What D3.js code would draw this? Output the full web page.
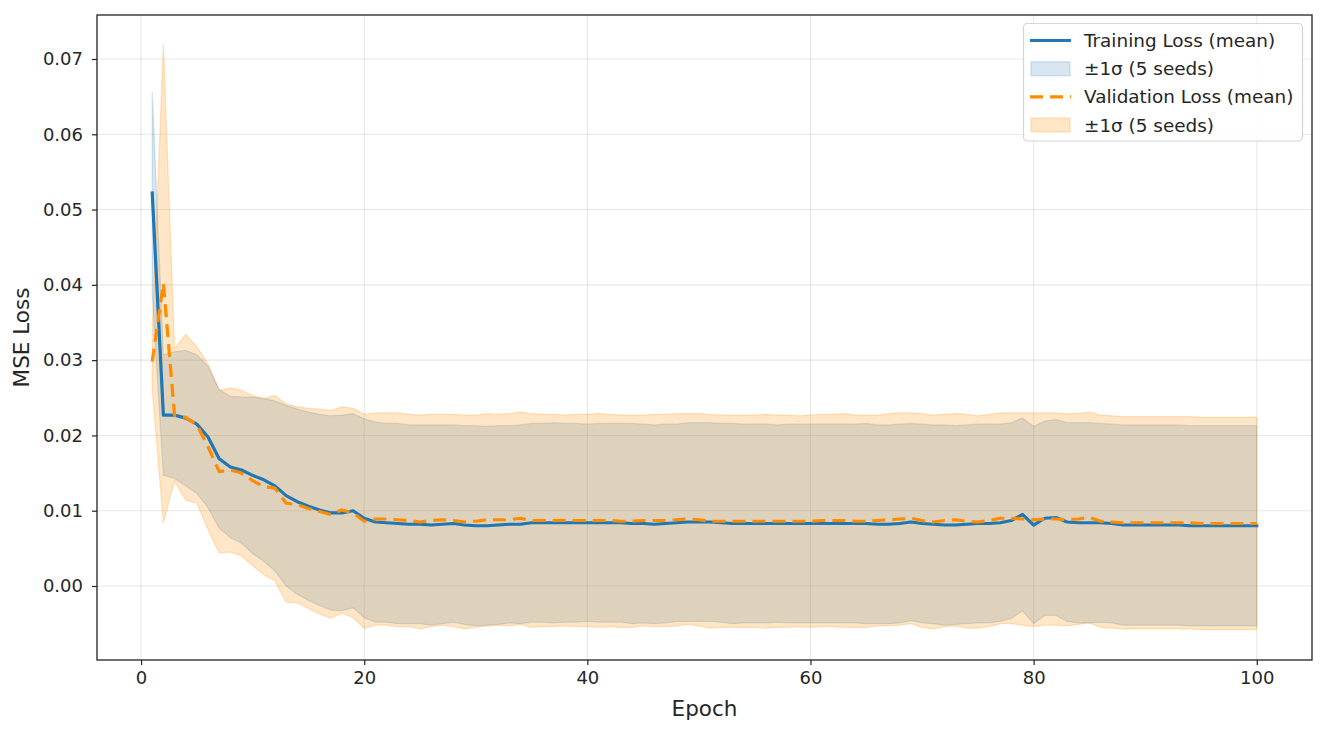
<!DOCTYPE html>
<html>
<head>
<meta charset="utf-8">
<script src="https://cdn.jsdelivr.net/npm/d3@7"></script>
<style>
  html, body { margin: 0; padding: 0; background: #fff; }
  svg { display: block; font-family: "DejaVu Sans", sans-serif; }
</style>
</head>
<body>
<svg id="chart" width="1326" height="732"></svg>
<script>
// ---------------- DATA ----------------
const epochs = d3.range(1, 101);

const trainMean = [
  0.0522, 0.0227, 0.0227, 0.0223, 0.0215, 0.0198, 0.0169, 0.0158, 0.0154, 0.0147,
  0.0141, 0.0133, 0.0120, 0.0112, 0.0106, 0.0101, 0.0097, 0.0097, 0.0100, 0.0090,
  0.0085, 0.0084, 0.0083, 0.0082, 0.0082, 0.0081, 0.0082, 0.0083, 0.0081, 0.0080,
  0.0080, 0.0081, 0.0082, 0.0082, 0.0084, 0.0084, 0.0084, 0.0084, 0.0084, 0.0084,
  0.0084, 0.0084, 0.0084, 0.0083, 0.0083, 0.0082, 0.0083, 0.0084, 0.0085, 0.0085,
  0.0085, 0.0084, 0.0083, 0.0083, 0.0083, 0.0083, 0.0083, 0.0083, 0.0083, 0.0083,
  0.0083, 0.0083, 0.0083, 0.0083, 0.0083, 0.0082, 0.0082, 0.0083, 0.0085, 0.0083,
  0.0082, 0.0081, 0.0081, 0.0082, 0.0083, 0.0083, 0.0084, 0.0087, 0.0095, 0.0081,
  0.0090, 0.0091, 0.0085, 0.0084, 0.0084, 0.0084, 0.0083, 0.0081, 0.0081, 0.0081,
  0.0081, 0.0081, 0.0081, 0.0080, 0.0080, 0.0080, 0.0080, 0.0080, 0.0080, 0.0080
];

const trainStd = [
  0.0134, 0.0080, 0.0084, 0.0090, 0.0092, 0.0094, 0.0092, 0.0094, 0.0097, 0.0104,
  0.0108, 0.0113, 0.0120, 0.0123, 0.0125, 0.0127, 0.0129, 0.0130, 0.0129, 0.0132,
  0.0133, 0.0132, 0.0133, 0.0132, 0.0132, 0.0133, 0.0132, 0.0131, 0.0132, 0.0133,
  0.0132, 0.0132, 0.0131, 0.0132, 0.0132, 0.0132, 0.0133, 0.0132, 0.0132, 0.0131,
  0.0132, 0.0132, 0.0132, 0.0133, 0.0132, 0.0132, 0.0132, 0.0131, 0.0132, 0.0132,
  0.0132, 0.0132, 0.0133, 0.0132, 0.0132, 0.0132, 0.0131, 0.0132, 0.0132, 0.0132,
  0.0132, 0.0132, 0.0132, 0.0132, 0.0133, 0.0132, 0.0132, 0.0132, 0.0131, 0.0132,
  0.0132, 0.0133, 0.0132, 0.0132, 0.0132, 0.0132, 0.0131, 0.0130, 0.0128, 0.0131,
  0.0129, 0.0130, 0.0132, 0.0133, 0.0133, 0.0132, 0.0132, 0.0133, 0.0133, 0.0133,
  0.0133, 0.0133, 0.0133, 0.0133, 0.0133, 0.0133, 0.0133, 0.0133, 0.0133, 0.0133
];

const valMean = [
  0.0298, 0.0402, 0.0227, 0.0224, 0.0214, 0.0185, 0.0152, 0.0154, 0.0150, 0.0140,
  0.0132, 0.0130, 0.0110, 0.0108, 0.0103, 0.0099, 0.0095, 0.0101, 0.0097, 0.0086,
  0.0089, 0.0089, 0.0088, 0.0087, 0.0085, 0.0087, 0.0088, 0.0087, 0.0085, 0.0086,
  0.0088, 0.0088, 0.0088, 0.0090, 0.0087, 0.0087, 0.0087, 0.0087, 0.0087, 0.0087,
  0.0087, 0.0087, 0.0086, 0.0086, 0.0087, 0.0087, 0.0087, 0.0088, 0.0089, 0.0088,
  0.0086, 0.0086, 0.0086, 0.0086, 0.0086, 0.0086, 0.0086, 0.0086, 0.0086, 0.0086,
  0.0087, 0.0087, 0.0087, 0.0086, 0.0086, 0.0087, 0.0088, 0.0089, 0.0090, 0.0087,
  0.0085, 0.0087, 0.0088, 0.0086, 0.0085, 0.0087, 0.0090, 0.0090, 0.0089, 0.0088,
  0.0089, 0.0089, 0.0088, 0.0089, 0.0091, 0.0086, 0.0085, 0.0084, 0.0084, 0.0084,
  0.0084, 0.0084, 0.0084, 0.0084, 0.0083, 0.0083, 0.0083, 0.0083, 0.0083, 0.0083
];

const valStd = [
  0.0038, 0.0318, 0.0088, 0.0110, 0.0104, 0.0110, 0.0108, 0.0109, 0.0110, 0.0113,
  0.0117, 0.0123, 0.0132, 0.0130, 0.0133, 0.0136, 0.0138, 0.0137, 0.0139, 0.0142,
  0.0141, 0.0141, 0.0142, 0.0141, 0.0142, 0.0141, 0.0140, 0.0141, 0.0142, 0.0141,
  0.0141, 0.0140, 0.0141, 0.0141, 0.0142, 0.0141, 0.0141, 0.0140, 0.0141, 0.0141,
  0.0142, 0.0141, 0.0141, 0.0141, 0.0140, 0.0141, 0.0141, 0.0141, 0.0140, 0.0141,
  0.0142, 0.0141, 0.0141, 0.0141, 0.0141, 0.0142, 0.0141, 0.0141, 0.0140, 0.0141,
  0.0141, 0.0141, 0.0142, 0.0141, 0.0141, 0.0140, 0.0141, 0.0141, 0.0140, 0.0142,
  0.0142, 0.0141, 0.0141, 0.0142, 0.0141, 0.0141, 0.0140, 0.0140, 0.0141, 0.0142,
  0.0141, 0.0141, 0.0141, 0.0140, 0.0140, 0.0141, 0.0141, 0.0141, 0.0141, 0.0141,
  0.0141, 0.0141, 0.0141, 0.0141, 0.0141, 0.0141, 0.0141, 0.0141, 0.0141, 0.0141
];

const xTicks = [0, 20, 40, 60, 80, 100];
const yTicks = [0.00, 0.01, 0.02, 0.03, 0.04, 0.05, 0.06, 0.07];
const legendLabels = ["Training Loss (mean)", "±1σ (5 seeds)", "Validation Loss (mean)", "±1σ (5 seeds)"];
const xLabel = "Epoch";
const yLabel = "MSE Loss";

// ---------------- LAYOUT ----------------
const C_TRAIN = "#1f77b4", C_VAL = "#ff8c00";
const A_TRAIN = 0.18, A_VAL = 0.22;
const plot = { left: 97, right: 1312, top: 15, bottom: 660 };
const svg = d3.select("#chart");

const x = d3.scaleLinear().domain([-3.95, 104.95]).range([plot.left, plot.right]);
const y = d3.scaleLinear().domain([-0.009829, 0.075844]).range([plot.bottom, plot.top]);

const train = epochs.map((e, i) => ({ e, m: trainMean[i], s: trainStd[i] }));
const val = epochs.map((e, i) => ({ e, m: valMean[i], s: valStd[i] }));

svg.append("defs").append("clipPath").attr("id", "clip")
  .append("rect").attr("x", plot.left).attr("y", plot.top)
  .attr("width", plot.right - plot.left).attr("height", plot.bottom - plot.top);

// grid
const grid = svg.append("g");
grid.selectAll(".gx").data(xTicks).enter().append("line")
  .attr("x1", d => x(d)).attr("x2", d => x(d))
  .attr("y1", plot.top).attr("y2", plot.bottom)
  .attr("stroke", "#b0b0b0").attr("stroke-opacity", 0.3).attr("stroke-width", 1.1);
grid.selectAll(".gy").data(yTicks).enter().append("line")
  .attr("x1", plot.left).attr("x2", plot.right)
  .attr("y1", d => y(d)).attr("y2", d => y(d))
  .attr("stroke", "#b0b0b0").attr("stroke-opacity", 0.3).attr("stroke-width", 1.1);

const g = svg.append("g").attr("clip-path", "url(#clip)");

const area = d3.area().x(d => x(d.e)).y0(d => y(d.m - d.s)).y1(d => y(d.m + d.s));
const line = d3.line().x(d => x(d.e)).y(d => y(d.m));

g.append("path").datum(train).attr("d", area)
  .attr("fill", C_TRAIN).attr("fill-opacity", A_TRAIN)
  .attr("stroke", C_TRAIN).attr("stroke-opacity", A_TRAIN).attr("stroke-width", 1.3);
g.append("path").datum(val).attr("d", area)
  .attr("fill", C_VAL).attr("fill-opacity", A_VAL)
  .attr("stroke", C_VAL).attr("stroke-opacity", A_VAL).attr("stroke-width", 1.3);

g.append("path").datum(train).attr("d", line)
  .attr("fill", "none").attr("stroke", C_TRAIN).attr("stroke-width", 3.2)
  .attr("stroke-linejoin", "round").attr("stroke-linecap", "square");
g.append("path").datum(val).attr("d", line)
  .attr("fill", "none").attr("stroke", C_VAL).attr("stroke-width", 3.2)
  .attr("stroke-dasharray", "13,7").attr("stroke-linejoin", "round");

// axes
const xAxis = d3.axisBottom(x).tickValues(xTicks).tickFormat(d3.format("d")).tickSize(5).tickPadding(6);
const yAxis = d3.axisLeft(y).tickValues(yTicks).tickFormat(d3.format(".2f")).tickSize(5).tickPadding(9);

const gx = svg.append("g").attr("transform", `translate(0,${plot.bottom})`).call(xAxis);
const gy = svg.append("g").attr("transform", `translate(${plot.left},0)`).call(yAxis);
[gx, gy].forEach(a => {
  a.select(".domain").remove();
  a.selectAll(".tick line").attr("stroke", "#222").attr("stroke-width", 1.2);
  a.selectAll(".tick text").attr("fill", "#262626")
    .style("font-size", "18px").style("font-family", "DejaVu Sans");
});

// frame
svg.append("rect").attr("x", plot.left).attr("y", plot.top)
  .attr("width", plot.right - plot.left).attr("height", plot.bottom - plot.top)
  .attr("fill", "none").attr("stroke", "#222").attr("stroke-width", 1.3);

// labels
svg.append("text").attr("x", (plot.left + plot.right) / 2).attr("y", 716)
  .attr("text-anchor", "middle").attr("fill", "#262626")
  .style("font-size", "21.5px").text(xLabel);
svg.append("text").attr("transform", `translate(29,${(plot.top + plot.bottom) / 2}) rotate(-90)`)
  .attr("text-anchor", "middle").attr("fill", "#262626")
  .style("font-size", "21.5px").text(yLabel);

// legend
const lg = svg.append("g");
lg.append("rect").attr("x", 1023.5).attr("y", 23.5).attr("width", 279).attr("height", 117.5)
  .attr("rx", 4).attr("fill", "#fff").attr("fill-opacity", 0.85)
  .attr("stroke", "#d5d5d5").attr("stroke-width", 1.2);
const rowY = [40.5, 68.8, 96.8, 125];
const kinds = [
  { t: "line", c: C_TRAIN, dash: null },
  { t: "patch", c: C_TRAIN, a: A_TRAIN },
  { t: "line", c: C_VAL, dash: "13,7" },
  { t: "patch", c: C_VAL, a: A_VAL }
];
kinds.forEach((k, i) => {
  const cy = rowY[i];
  if (k.t === "line") {
    lg.append("line").attr("x1", 1030).attr("x2", 1071).attr("y1", cy).attr("y2", cy)
      .attr("stroke", k.c).attr("stroke-width", 3.2)
      .attr("stroke-dasharray", k.dash);
  } else {
    lg.append("rect").attr("x", 1031).attr("y", cy - 7).attr("width", 39).attr("height", 14)
      .attr("fill", k.c).attr("fill-opacity", k.a)
      .attr("stroke", k.c).attr("stroke-opacity", k.a).attr("stroke-width", 1.3);
  }
  lg.append("text").attr("x", 1084).attr("y", cy).attr("dy", "0.36em")
    .attr("fill", "#262626").style("font-size", "18.4px").text(legendLabels[i]);
});
</script>
</body>
</html>
